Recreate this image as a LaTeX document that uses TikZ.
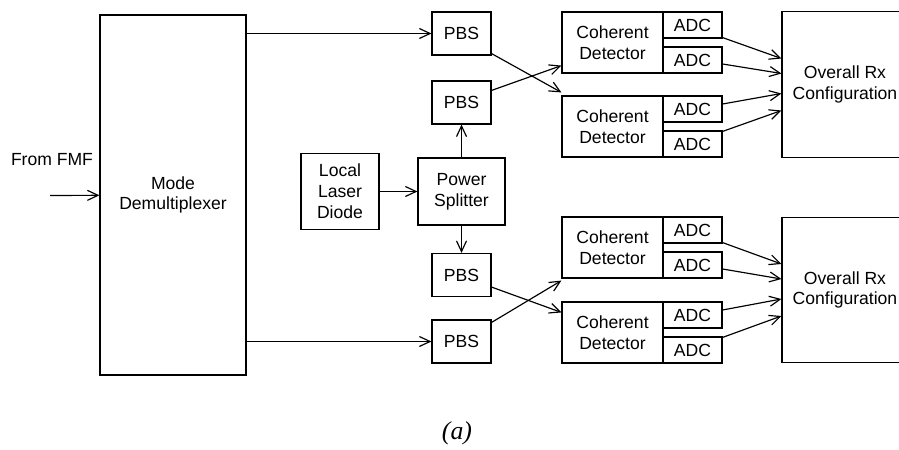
\documentclass[tikz,border=0pt]{standalone}
\usepackage{fontspec}
\setmainfont{Liberation Sans}
\newfontfamily\captionfont{Liberation Serif}
\usetikzlibrary{arrows.meta,calc}
\tikzstyle{block}=[draw,line width=1pt,align=center,inner sep=0pt,font=\fontsize{15}{17.8}\selectfont]
\tikzstyle{demux}=[block,minimum width=4.38cm,minimum height=10.8cm]
\tikzstyle{laser}=[block,minimum width=2.34cm,minimum height=2.28cm]
\tikzstyle{splitter}=[block,minimum width=2.61cm,minimum height=2.01cm]
\tikzstyle{pbs}=[block,minimum width=1.77cm,minimum height=1.29cm]
\tikzstyle{detector}=[block,minimum width=3.03cm,minimum height=1.83cm]
\tikzstyle{adc}=[block,minimum width=1.77cm,minimum height=0.78cm]
\tikzstyle{rx}=[block,minimum width=3.78cm,minimum height=4.37cm]
\tikzstyle{link}=[draw,line width=1pt,-{Straight Barb[length=3.2mm,width=3mm]}]

\begin{document}
\begin{tikzpicture}[x=0.03cm,y=-0.03cm]
        \clip (0,0) rectangle (899,449);
        \node[demux] (dmx) at (173,195) {Mode\\Demultiplexer};
        \node[font=\fontsize{15}{17.8}\selectfont] (fmf) at (52,160) {From FMF};
        \coordinate (in) at (50,195.5);
        \node[laser] (lld) at (340,191.5) {Local\\Laser\\Diode};
        \node[splitter] (ps) at (461.5,191.5) {Power\\Splitter};
        \node[pbs] (pbs1) at (461.5,33.5) {PBS};
        \node[pbs] (pbs2) at (461.5,102.5) {PBS};
        \node[pbs] (pbs3) at (461.5,275) {PBS};
        \node[pbs] (pbs4) at (461.5,341.5) {PBS};
        \node[detector] (cd1) at (612.5,42.5) {Coherent\\Detector};
        \node[detector] (cd2) at (612.5,126.5) {Coherent\\Detector};
        \node[detector] (cd3) at (612.5,247.5) {Coherent\\Detector};
        \node[detector] (cd4) at (612.5,332.5) {Coherent\\Detector};
        \node[adc] (adc11) at (692.5,25) {ADC};
        \node[adc] (adc12) at (692.5,60) {ADC};
        \node[adc] (adc21) at (692.5,109) {ADC};
        \node[adc] (adc22) at (692.5,144) {ADC};
        \node[adc] (adc31) at (692.5,230) {ADC};
        \node[adc] (adc32) at (692.5,265) {ADC};
        \node[adc] (adc41) at (692.5,315) {ADC};
        \node[adc] (adc42) at (692.5,350) {ADC};
        \node[rx] (rx1) at (845,84.5) {Overall Rx\\Configuration};
        \node[rx] (rx2) at (845,290) {Overall Rx\\Configuration};
        \node[font=\captionfont\itshape\fontsize{22}{26}\selectfont] (cap) at (457,433) {(a)};
        \path[link] (in) -- (dmx);
        \path[link] (dmx.east |- pbs1) -- (pbs1);
        \path[link] (dmx.east |- pbs4) -- (pbs4);
        \path[link] (lld) -- (ps);
        \path[link] (ps) -- (pbs2);
        \path[link] (ps) -- (pbs3);
        \path[link] ($(pbs1.south east)+(0,-2)$) -- ($(cd2.north west)+(0,-3)$);
        \path[link] ($(pbs2.north east)+(0,10)$) -- ($(cd1.south west)+(0,-8)$);
        \path[link] ($(pbs3.south east)+(0,-10)$) -- ($(cd4.north west)+(0,11)$);
        \path[link] ($(pbs4.north east)+(0,3)$) -- ($(cd3.south west)+(0,2)$);
        \path[link] ($(adc11.south east)+(0,-1)$) -- ($(rx1.west)+(0,-26)$);
        \path[link] ($(adc12.east)+(0,4)$) -- ($(rx1.west)+(0,-11)$);
        \path[link] ($(adc21.east)+(0,-5)$) -- ($(rx1.west)+(0,9)$);
        \path[link] ($(adc22.north east)+(0,1)$) -- ($(rx1.west)+(0,26)$);
        \path[link] ($(adc31.south east)+(0,-1)$) -- ($(rx2.west)+(0,-26)$);
        \path[link] ($(adc32.east)+(0,4)$) -- ($(rx2.west)+(0,-11)$);
        \path[link] ($(adc41.east)+(0,-5)$) -- ($(rx2.west)+(0,9)$);
        \path[link] ($(adc42.north east)+(0,1)$) -- ($(rx2.west)+(0,26)$);
    \end{tikzpicture}
\end{document}
